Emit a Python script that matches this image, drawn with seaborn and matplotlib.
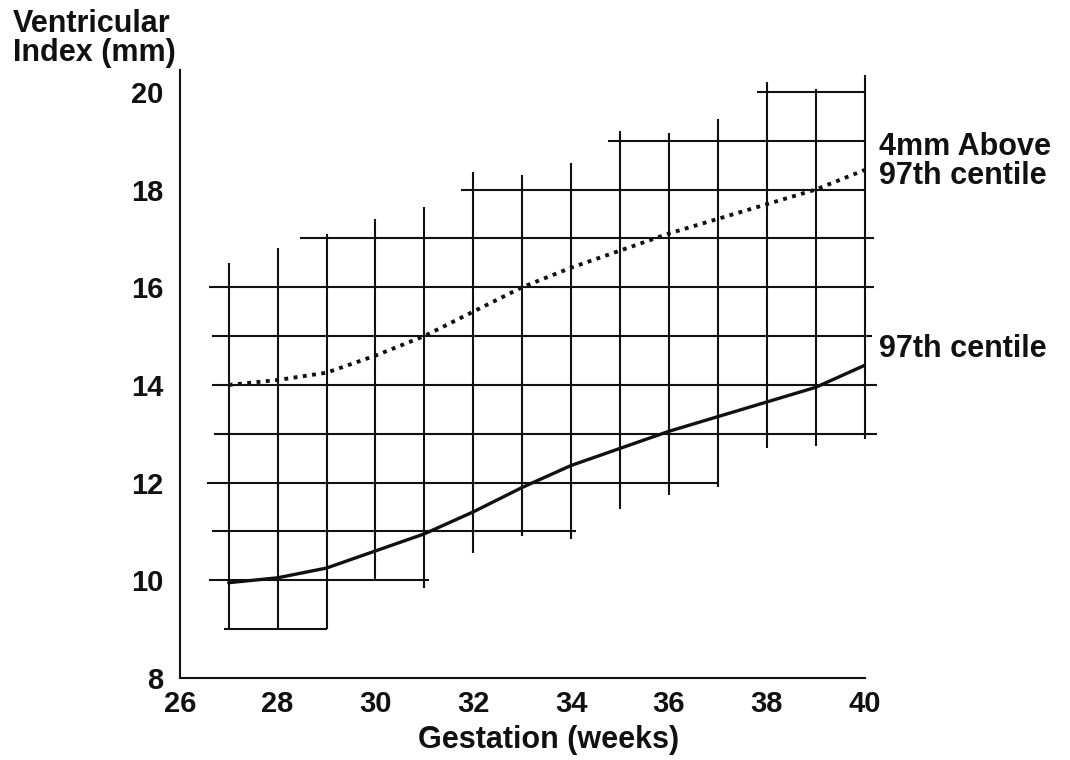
import numpy as np
import pandas as pd
import matplotlib
matplotlib.use("Agg")
import matplotlib.pyplot as plt
import seaborn as sns

# ------------------------------------------------------------
# Data
# ------------------------------------------------------------
weeks = [27, 28, 29, 30, 31, 32, 33, 34, 35, 36, 37, 38, 39, 40]
centile_97 = [9.95, 10.05, 10.25, 10.6, 10.95, 11.4, 11.9, 12.35, 12.7, 13.05, 13.35, 13.65, 13.95, 14.4]
above_4mm = [14.0, 14.1, 14.25, 14.6, 15.0, 15.5, 16.0, 16.4, 16.75, 17.1, 17.4, 17.7, 18.0, 18.4]

# chart-paper grid: horizontal rulings (y, x start, x end)
hline_y = [20, 19, 18, 17, 16, 15, 14, 13, 12, 11, 10, 9]
hline_x0 = [37.8, 34.75, 31.75, 28.45, 26.6, 26.65, 26.65, 26.7, 26.55, 26.65, 26.6, 26.9]
hline_x1 = [40.0, 40.0, 40.0, 40.2, 40.2, 40.15, 40.25, 40.25, 37.0, 34.1, 31.1, 29.0]

# vertical rulings (x, y bottom, y top)
vline_x = [27, 28, 29, 30, 31, 32, 33, 34, 35, 36, 37, 38, 39, 40]
vline_y0 = [9.0, 9.0, 9.0, 10.0, 9.85, 10.55, 10.9, 10.85, 11.45, 11.75, 11.9, 12.7, 12.75, 12.9]
vline_y1 = [16.5, 16.8, 17.1, 17.4, 17.65, 18.35, 18.3, 18.55, 19.2, 19.15, 19.45, 20.2, 20.05, 20.35]

x_ticks = [26, 28, 30, 32, 34, 36, 38, 40]
y_ticks = [8, 10, 12, 14, 16, 18, 20]

curves = pd.DataFrame({
    "week": weeks * 2,
    "value": centile_97 + above_4mm,
    "curve": ["97th centile"] * len(weeks) + ["4mm Above 97th centile"] * len(weeks),
})

# ------------------------------------------------------------
# Plot
# ------------------------------------------------------------
sns.set_style("white")
plt.rcParams["font.family"] = ["Liberation Sans", "DejaVu Sans"]
plt.rcParams["font.weight"] = "bold"

fig = plt.figure(figsize=(10.7, 7.6), dpi=100)
ax = fig.add_axes([0.168, 0.108, 0.64, 0.80])

ink = "#111111"
ax.hlines(hline_y, hline_x0, hline_x1, color=ink, lw=1.5, clip_on=False, zorder=1)
ax.vlines(vline_x, vline_y0, vline_y1, color=ink, lw=1.5, clip_on=False, zorder=1)

sns.lineplot(
    data=curves[curves["curve"] == "97th centile"],
    x="week", y="value", color=ink, lw=2.4, ax=ax, legend=False, zorder=3
)
sns.lineplot(
    data=curves[curves["curve"] == "4mm Above 97th centile"],
    x="week", y="value", color=ink, lw=2.8, ax=ax, legend=False, zorder=3,
    linestyle=(0, (1, 1.4))
)

ax.set_xlim(26, 40)
ax.set_ylim(8, 20.45)
ax.set_xticks(x_ticks)
ax.set_yticks(y_ticks)
ax.tick_params(direction="in", length=6, width=1.5, color=ink, labelsize=21,
               labelcolor=ink)
ax.tick_params(axis="y", pad=12)
ax.tick_params(axis="x", pad=9)

for side in ["top", "right"]:
    ax.spines[side].set_visible(False)
for side in ["left", "bottom"]:
    ax.spines[side].set_color(ink)
    ax.spines[side].set_linewidth(1.5)

ax.set_xlabel("Gestation (weeks)", fontsize=22, fontweight="bold", color=ink)
ax.xaxis.set_label_coords(0.539, -0.078)
ax.set_ylabel("")

fig.text(0.012, 0.988, "Ventricular\nIndex (mm)", fontsize=22, fontweight="bold",
         color=ink, ha="left", va="top", linespacing=0.95)

ax.text(40.3, 18.57, "4mm Above\n97th centile", fontsize=22, fontweight="bold",
        color=ink, ha="left", va="center", linespacing=0.95)
ax.text(40.3, 14.73, "97th centile", fontsize=22, fontweight="bold",
        color=ink, ha="left", va="center")

fig.savefig("out.png", dpi=100)
